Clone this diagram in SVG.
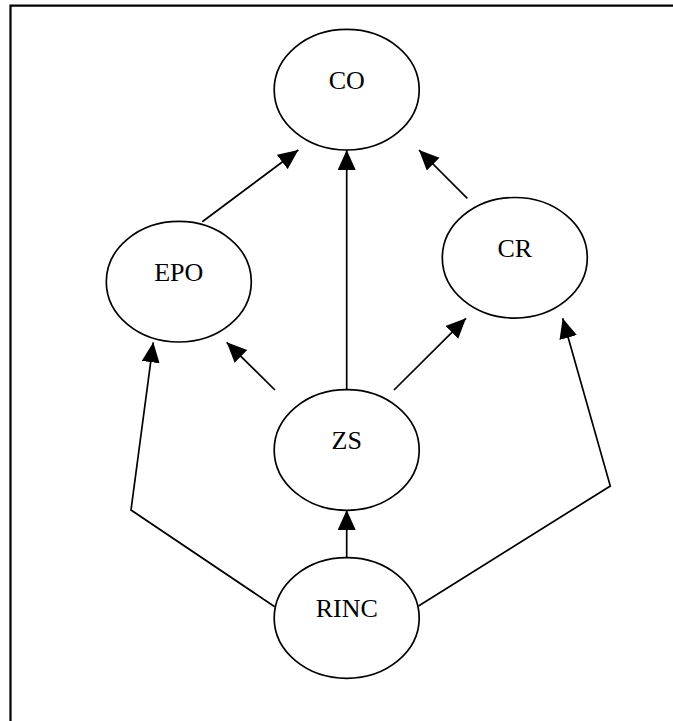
<svg xmlns="http://www.w3.org/2000/svg" width="673" height="721" viewBox="0 0 673 721">
<style>
.node ellipse{fill:#fff;stroke:#000;stroke-width:1.7}
.node text{font-family:"Liberation Serif","Times New Roman",serif;font-size:26px;text-anchor:middle;fill:#000}
.edge{fill:none;stroke:#000;stroke-width:1.7;marker-end:url(#arr)}
</style>
<defs>
<marker id="arr" markerUnits="userSpaceOnUse" markerWidth="21" markerHeight="19" refX="20" refY="9" orient="auto" viewBox="0 0 21 19">
<path d="M0,0 L20,9 L0,18 Z" fill="#000"/>
</marker>
</defs>
<rect width="673" height="721" fill="#fff"/>
<path d="M10.5,730 V5.7 H680" fill="none" stroke="#000" stroke-width="2.2"/>
<g id="connectors">
<path class="edge" d="M202.3,221.7 L298.3,150"/>
<path class="edge" d="M346.7,390 L346.7,150"/>
<path class="edge" d="M467.3,198.3 L419,150"/>
<path class="edge" d="M275,390 L226.7,342.3"/>
<path class="edge" d="M394,390 L466,318.3"/>
<path class="edge" d="M274.7,606.7 L131,510 L153.3,342.3"/>
<path class="edge" d="M418.5,606 L610.3,486 L562.7,318.3"/>
<path class="edge" d="M346.7,558 L346.7,510"/>
</g>
<g id="CO" class="node"><ellipse cx="346.7" cy="89.7" rx="72.5" ry="60.3"/><text x="346.7" y="88.5">CO</text></g>
<g id="EPO" class="node"><ellipse cx="178.8" cy="281.7" rx="72.5" ry="60.3"/><text x="178.8" y="280.7">EPO</text></g>
<g id="CR" class="node"><ellipse cx="514.8" cy="257.8" rx="72.5" ry="60.3"/><text x="514.8" y="257">CR</text></g>
<g id="ZS" class="node"><ellipse cx="346.7" cy="450" rx="72.5" ry="60.3"/><text x="346.7" y="449.2">ZS</text></g>
<g id="RINC" class="node"><ellipse cx="346.7" cy="618" rx="72.5" ry="60.3"/><text x="346.7" y="616.8">RINC</text></g>
</svg>
